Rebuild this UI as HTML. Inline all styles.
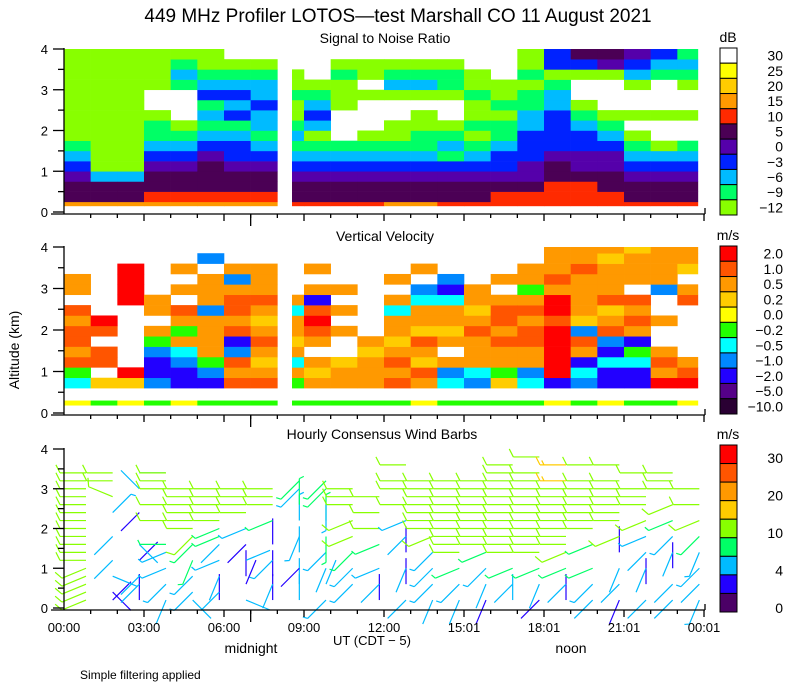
<!DOCTYPE html>
<html><head><meta charset="utf-8"><style>
body{margin:0;background:#fff;}
svg{display:block;font-family:"Liberation Sans",sans-serif;}
</style></head><body>
<svg id="chart" width="800" height="700" viewBox="0 0 800 700">
<text x="398" y="22" font-size="19" text-anchor="middle">449 MHz Profiler LOTOS—test Marshall CO 11 August 2021</text>
<text x="385" y="43" font-size="14" text-anchor="middle">Signal to Noise Ratio</text>
<text x="385" y="241" font-size="14" text-anchor="middle">Vertical Velocity</text>
<text x="382" y="439" font-size="14" text-anchor="middle">Hourly Consensus Wind Barbs</text>
<text x="19" y="350" font-size="14" text-anchor="middle" transform="rotate(-90 19 350)">Altitude (km)</text>
<text x="372" y="645" font-size="13" text-anchor="middle">UT  (CDT − 5)</text>
<text x="251" y="653" font-size="14" text-anchor="middle">midnight</text>
<text x="571" y="653" font-size="14" text-anchor="middle">noon</text>
<text x="80" y="679" font-size="12">Simple filtering applied</text>
<g id="layers"></g>
</svg>
<script>
// ---- data ----
const hours = ["00:00","03:00","06:00","09:00","12:00","15:01","18:01","21:01","00:01"];
const altTicks = [0,1,2,3,4];
const snrLabels = ["30","25","20","15","10","5","0","−3","−6","−9","−12"];
const vvLabels = ["2.0","1.0","0.5","0.2","0.0","−0.2","−0.5","−1.0","−2.0","−5.0","−10.0"];
const windLabels = ["30","20","10","4","0"];
// SNR hourly profiles, 0.25 km bins from bottom
const snrCols = [
"OPPVBCNLLLLLLLLL","OPPCLLLLLLLLLLLL","OPPCLLLLLLLLLLLL","ORPPVBCNNL..LLLL",
"ORPPVBCNL...NCNL","ORPPPVBCNCNBCNLL","ORPPVBBCNBCBCNL.","ORPPVBCNCCBCCNL.",
"RPPVBCNCNLLNLL..","RPPVBCNLCBCNL...","RPPVBCN...LLLNL.","RPPVBCNL...L.LL.",
"OPPVBCNLL..LCNL.","OPPVBCNNLL.LCNL.","RPPVBNCNL..LNNL.","RPPVBCNLNLLNLL..",
"RRPVBBCNNLNLL...","RRPVVBBBCCNNLNLL","RRRPPVBBBBCCNLBB","RRRPVVBBCNL..LBP",
"RRPPVVBCNL...LVP","RPPVBCNL.L..LCBV","RPPVBCL..L...NCB","RPPVBCN..L..LNCN"];
// Vertical velocity hourly profiles, 0.25 km bins from 0.6 km
const vvCols = [
"cgOoOOoO.oo...","G.OO.OR.......","GR......RRRR..","bBBbgo.oo.....",
"BBbcogoO.o.o..","Bbgoooobooo.b.","OoObBOoOOobo..","OoGoOoGoOooo..",
"gocoGooco.....","oGo.oOROBo.o..","ooG..o.o.o....","oooGo.........",
"OoOoGooco.o...","oOGoOGoocb.o..","cbo.oGoocBb...","bcoooOoGoo....",
"GgooOoOOo.o...","cbooOOoOogoo..","BRRRRRORRoOooo","bcBoObGooooOoo",
"BBcBbOoGOoooGo","BBcgBoOoO.oooG","RoOo..o..boooo","ROo.....Oo.Goo"];
const vvStrip = "YgYgYggggggggYggggYgYggY";
// Wind: speed digit*2 m/s, direction a..p = 16 compass points; levels 0.2 km step from 0.2 km
const windSpd = [
"55556666777766666","11.2.2..2..3.5.56","1.22.1.2...1..2.2.","2.3.3.34..5.6.666",
"23.3.4.45666666","12.2.3.24455665","2.11.2.1.3.5655","1.21.3.1..4.566",
"2.2.1.2.3.3.4.34","3.2.2.3.4.4.3.44","..3.3.4.5.5.666","1.2.3..4.5.6.6",
"2.1.2.1.2.3.6.66.6","2.3.3.3.55666666","2.3.4.5566666666","1.2.3.4556666666",
"2.2.4.566777777777","1.2.4.56677777777.7","1.2.4.5666777778.8","2.3.4..4.6677777.7",
"1.2.2.1.5.666666.6","2.1.2.2.3.5.666.6","2.2.1.2.3.4.5.666","3.2.3.3.4.5.5.5"];
const windDir = [
"lllllmmmmmmmmmmmm","cg.f.k..k..c.n.mm","a.kk.c.g...k..o.e","j.k.l.lm..m.m.mmm",
"gk.k.j.kkmmmmmm","ak.j.l.kllmmmmm","f.ba.d.k.l.mmmm","a.ja.k.a..l.mmm",
"a.a.k.a.j.a.a.kk","k.b.j.k.i.a.i.kk","..k.k.k.l.l.mmm","a.k.l..l.m.m.m",
"k.a.j.a.k.l.m.mm.m","j.k.k.k.lmmmmmmm","j.k.l.mmmmmmmmmm","j.j.k.lmmmmmmmmm",
"a.k.l.mmmmmmmmmmmm","k.j.l.mmmmmmmmmmm.m","a.k.l.lmmmmmmmmm.m","k.k.l..l.mmmmmmm.m",
"j.k.j.a.l.mmmmmm.m","k.a.j.k.l.l.mmm.m","k.k.a.j.k.l.l.mmm","j.k.k.j.k.l.m.m"];

// ---- styles ----
const snrColor = {O:"#ff9900",R:"#ff2a00",P:"#4b0055",V:"#5500aa",B:"#0022ff",C:"#00bbff",N:"#00ff66",L:"#88ff00",Y:"#ffff00",G:"#ffcc00"};
const snrBar = ["#ffffff","#ffff00","#ffcc00","#ff9900","#ff2a00","#4b0055","#5500aa","#0022ff","#00bbff","#00ff66","#88ff00"];
const vvColor = {R:"#ff0000",O:"#ff5500",o:"#ff9900",G:"#ffcc00",Y:"#ffff00",g:"#22ff00",c:"#00ffff",b:"#0088ff",B:"#2200ff",V:"#550088"};
const vvBar = ["#ff0000","#ff5500","#ff9900","#ffcc00","#ffff00","#22ff00","#00ffff","#0088ff","#2200ff","#550088","#2a0033"];
const windBar = ["#ff0000","#ff5500","#ff9900","#ffcc00","#88ff00","#00ff66","#00bbff","#2200ff","#4b0066"];
const NS="http://www.w3.org/2000/svg";
const root=document.getElementById('layers');
function mk(tag,attrs,parent){const e=document.createElementNS(NS,tag);for(const k in attrs)e.setAttribute(k,attrs[k]);(parent||root).appendChild(e);return e;}
const xOf=h=>64+h*26.667;
const panels=[{y0:212,k:40.75},{y0:413,k:41.5},{y0:608,k:39.75}];
const yOf=(p,a)=>panels[p].y0-a*panels[p].k;
function clipSpan(h){let a=h,b=h+1;if(h===8)a=8.55;if(b>23.77)b=23.77;return [xOf(a),xOf(b)];}

// SNR
const g1=mk('g',{});


snrCols.forEach((col,h)=>{const [xa,xb]=clipSpan(h);
 for(let i=0;i<col.length;i++){const c=col[i];if(c==='.')continue;
  const a0=i===0?0.15:i*0.25, a1=Math.min(4,(i+1)*0.25);
  const r=mk('rect',{x:xa,y:yOf(0,a1),width:xb-xa+0.3,height:yOf(0,a0)-yOf(0,a1)+0.3,fill:snrColor[c]},g1);
  
  }});
// VV
const g2=mk('g',{});


vvCols.forEach((col,h)=>{const [xa,xb]=clipSpan(h);
 const s=mk('rect',{x:xa,y:yOf(1,0.3),width:xb-xa+0.3,height:yOf(1,0.18)-yOf(1,0.3),fill:vvColor[vvStrip[h]]},g2);
 
 
 for(let i=0;i<col.length;i++){const c=col[i];if(c==='.')continue;
  const a0=0.6+i*0.25, a1=Math.min(4,a0+0.25);
  const r=mk('rect',{x:xa,y:yOf(1,a1),width:xb-xa+0.3,height:yOf(1,a0)-yOf(1,a1)+0.3,fill:vvColor[c]},g2);
  
  }});
// Wind barbs
function windCol(s){if(s<2)return windBar[8];if(s<4)return windBar[7];if(s<7)return windBar[6];if(s<10)return windBar[5];if(s<15)return windBar[4];if(s<20)return windBar[3];if(s<25)return windBar[2];if(s<30)return windBar[1];return windBar[0];}
const g3=mk('g',{'stroke-width':1.2,fill:'none'});


windSpd.forEach((str,h)=>{const dirs=windDir[h];
 for(let i=0;i<str.length;i++){if(str[i]==='.'||dirs[i]==='.'||dirs[i]===undefined)continue;
  const spd=parseInt(str[i])*2, th=(dirs.charCodeAt(i)-97)*22.5*Math.PI/180;
  const alt=0.2+i*0.2; if(alt>3.9)continue;
  const sx=xOf(h)+22, sy=yOf(2,alt);
  const dx=Math.sin(th), dy=-Math.cos(th), L=26;
  const ex=sx+dx*L, ey=sy+dy*L;
  let d=`M${sx},${sy}L${ex},${ey}`;
  const bx=Math.sin(th+1.1), by=-Math.cos(th+1.1);
  let n=Math.floor(spd/10), half=(spd%10)>=5;
  for(let k=0;k<n;k++){const px=ex-dx*k*4, py=ey-dy*k*4;d+=`M${px},${py}l${bx*9},${by*9}`;}
  if(half){const px=ex-dx*n*4, py=ey-dy*n*4;d+=`M${px},${py}l${bx*5},${by*5}`;}
  const p=mk('path',{d,stroke:windCol(spd)},g3);
  
  }});

// Axes
for(let p=0;p<3;p++){
 const ax=mk('g',{stroke:'#000','stroke-width':1.3});
 
 
 const yb=panels[p].y0+2, yt=yOf(p,4)-1;
 mk('line',{x1:64,y1:yt,x2:64,y2:yb},ax);
 mk('line',{x1:51,y1:yb,x2:705,y2:yb},ax);
 mk('line',{x1:705,y1:yb,x2:705,y2:yb-6},ax);
 for(let a=0;a<=4;a+=0.5){const y=yOf(p,a);mk('line',{x1:a%1===0?53:58,y1:y,x2:64,y2:y},ax);}
 altTicks.forEach(a=>{const t=mk('text',{x:48,y:yOf(p,a)+5,'font-size':13,'text-anchor':'end',stroke:'none',fill:'#000'},ax);t.textContent=a;
  
  });
 for(let h=1;h<=24;h++){const x=xOf(h);mk('line',{x1:x,y1:yb,x2:x,y2:yb+(h%3===0?7:4)},ax);}
 mk('line',{x1:xOf(7),y1:yb,x2:xOf(7),y2:yb+12},ax);
}
hours.forEach((t,i)=>{const e=mk('text',{x:xOf(i*3),y:632,'font-size':13,'text-anchor':'middle'});e.textContent=t;
 
 });

// Colorbars
function colorbar(name,top,h,colors,labels,unit,labelY){
 const g=mk('g',{});
 
 
 const ch=h/colors.length;
 colors.forEach((c,i)=>{const r=mk('rect',{x:720,y:top+i*ch,width:17,height:ch,fill:c,stroke:'#000','stroke-width':1},g);
  
  });
 const u=mk('text',{x:728,y:top-6,'font-size':14,'text-anchor':'middle'},g);u.textContent=unit;
 labels.forEach((l,i)=>{const t=mk('text',{x:783,y:labelY(i)+5,'font-size':14,'text-anchor':'end'},g);t.textContent=l;
  
  });
}
colorbar('snr-colorbar',48,167,snrBar,snrLabels,'dB',i=>48+167/11*(i+0.5));
colorbar('velocity-colorbar',246,168,vvBar,vvLabels,'m/s',i=>246+168/11*(i+0.5));
colorbar('wind-colorbar',445,167,windBar,windLabels,'m/s',i=>458+i*37.5);
</script>
</body></html>
